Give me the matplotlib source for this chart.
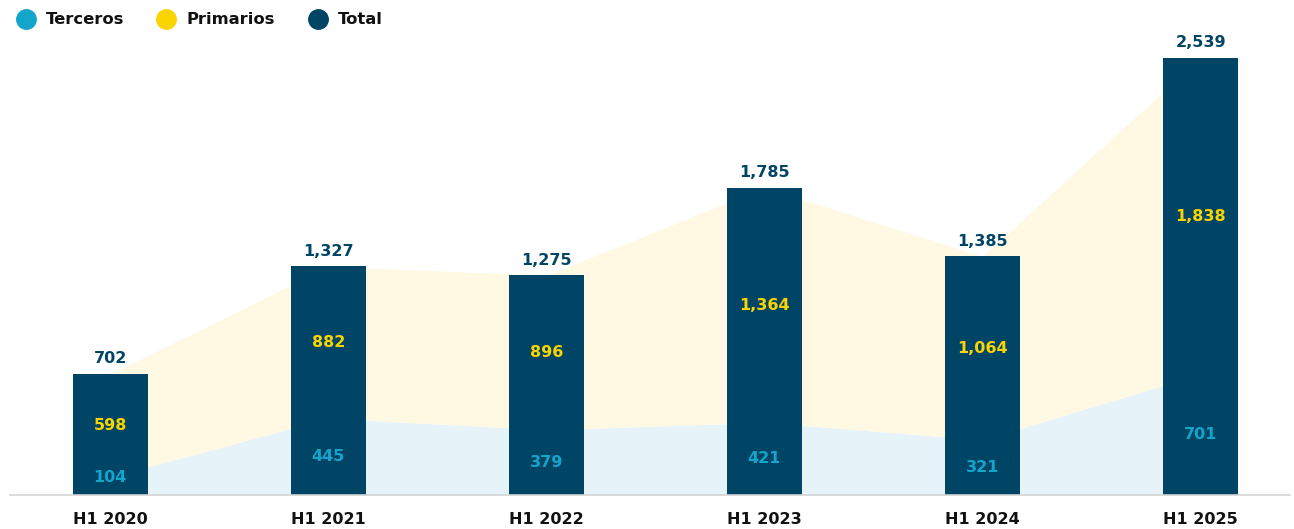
import matplotlib
matplotlib.use("Agg")
import matplotlib.pyplot as plt
from matplotlib.lines import Line2D
import numpy as np

# Data
periods = ["H1 2020", "H1 2021", "H1 2022", "H1 2023", "H1 2024", "H1 2025"]
terceros = [104, 445, 379, 421, 321, 701]
primarios = [598, 882, 896, 1364, 1064, 1838]
total = [702, 1327, 1275, 1785, 1385, 2539]
legend_labels = ["Terceros", "Primarios", "Total"]

NAVY = "#004466"
BLUE = "#14A5CB"
YELLOW = "#FAD400"
BLUE_FILL = "#E6F4F9"
YELLOW_FILL = "#FFF8E3"

plt.rcParams["font.family"] = ["DejaVu Sans"]

W, H = 1294, 529
fig = plt.figure(figsize=(W / 100, H / 100), dpi=100)
ax = fig.add_axes([10 / W, 34 / H, 1280 / W, 465 / H])

x = np.arange(len(periods))
terc = np.array(terceros)
prim = np.array(primarios)

# stacked background areas
ax.fill_between(x, 0, terc, color=BLUE_FILL, linewidth=0, zorder=1)
ax.fill_between(x, terc, terc + prim, color=YELLOW_FILL, linewidth=0, zorder=1)

# total bars
ax.bar(x, total, width=0.345, color=NAVY, zorder=2)

# labels
fs = 11.5
for i, (t, p, tot) in enumerate(zip(terceros, primarios, total)):
    ax.text(i, tot + 45, f"{tot:,}", ha="center", va="bottom",
            color=NAVY, fontsize=fs, fontweight="bold", zorder=3)
    ax.text(i, t + p / 2, f"{p:,}", ha="center", va="center",
            color=YELLOW, fontsize=fs, fontweight="bold", zorder=3)
    ax.text(i, max(t / 2, 100), f"{t:,}", ha="center", va="center",
            color=BLUE, fontsize=fs, fontweight="bold", zorder=3)

ax.set_xlim(-0.46, 5.41)
ax.set_ylim(0, 2700)
ax.set_xticks(x)
ax.set_xticklabels(periods, fontsize=11.5, fontweight="bold", color="#111111")
ax.tick_params(axis="x", length=0, pad=12)
ax.set_yticks([])
for side in ["top", "right", "left"]:
    ax.spines[side].set_visible(False)
ax.spines["bottom"].set_color("#D5D5D5")
ax.spines["bottom"].set_linewidth(1.2)

# legend, placed by hand to match the reference spacing
legend_colors = [BLUE, YELLOW, NAVY]
legend_x = [26, 166, 318]
ly = 1 - 19 / H
for lx, lab, col in zip(legend_x, legend_labels, legend_colors):
    fig.add_artist(Line2D([lx / W], [ly], marker="o", markersize=14, color=col,
                          linestyle="", transform=fig.transFigure))
    fig.text((lx + 20) / W, ly, lab, ha="left", va="center", fontsize=11.8,
             fontweight="bold", color="#111111")

fig.savefig("out.png", dpi=100)
